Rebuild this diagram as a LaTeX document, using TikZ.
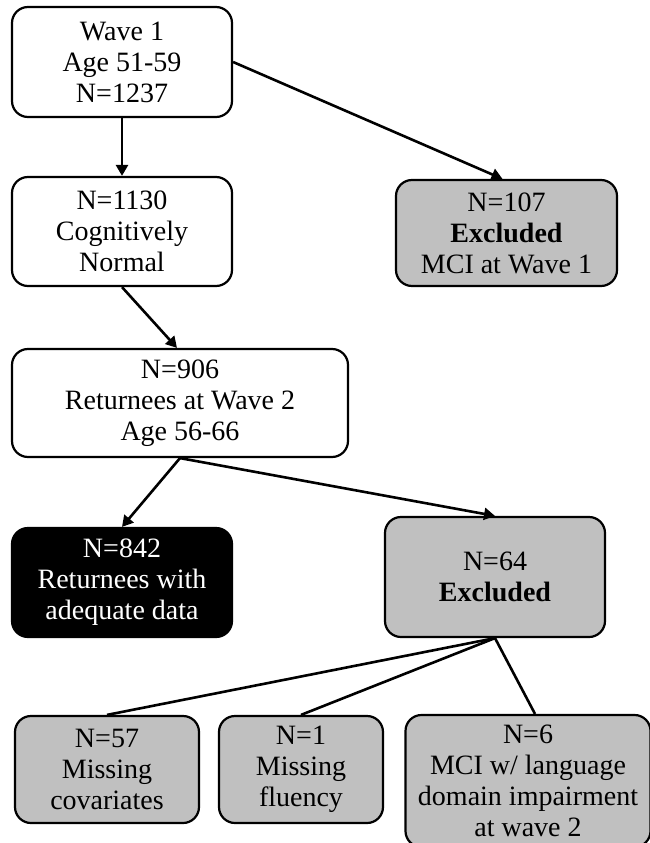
\documentclass[tikz,border=0pt]{standalone}
\usepackage{fontspec}
\setmainfont{Liberation Serif}
\usetikzlibrary{arrows.meta,positioning,calc}
\definecolor{exclgray}{RGB}{192,192,192}
\tikzset{
  box/.style={draw, line width=2.2pt, rounded corners=16pt, align=center,
    inner sep=2pt, font=\fontsize{28}{31}\selectfont},
  greybox/.style={box, fill=exclgray},
  darkbox/.style={box, fill=black, text=white},
  arr/.style={line width=2.6pt, -{Triangle[length=11pt,width=12pt]}},
  lnk/.style={line width=2.6pt}
}

\begin{document}
\begin{tikzpicture}[x=1pt,y=-1pt]
\useasboundingbox (0,0) rectangle (650,843);
\clip (0,0) rectangle (650,843);
\node[box, minimum width=220, minimum height=110] (wave1) at (122,62) {Wave 1\\Age 51-59\\N=1237};
\node[box, minimum width=220, minimum height=109] (normal) at (122,231.5) {N=1130\\Cognitively\\Normal};
\node[greybox, minimum width=221, minimum height=106] (excl1) at (506.5,233) {N=107\\\textbf{Excluded}\\MCI at Wave 1};
\node[box, minimum width=336, minimum height=108] (wave2) at (180,403) {N=906\\Returnees at Wave 2\\Age 56-66};
\node[darkbox, minimum width=220, minimum height=109] (final) at (122,582.5) {N=842\\Returnees with\\adequate data};
\node[greybox, minimum width=220, minimum height=120] (excl2) at (495,577) {N=64\\\textbf{Excluded}};
\node[greybox, minimum width=184, minimum height=107] (miscov) at (107,769.5) {N=57\\Missing\\covariates};
\node[greybox, minimum width=164, minimum height=107] (misflu) at (301,769.5) {N=1\\Missing\\fluency};
\node[greybox, minimum width=245, minimum height=132] (mcilang) at (528,781) {N=6\\MCI w/ language\\domain impairment\\at wave 2};
% arrows
\draw[arr] (wave1.east) -- ($(excl1.north)+(-4,0)$);
\draw[arr] (wave1.south) -- (normal.north);
\draw[arr] (normal.south) -- ($(wave2.north)+(-3,0)$);
\draw[arr] (wave2.south) -- (final.north);
\draw[arr] (wave2.south) -- (excl2.north);
% split of the excluded
\draw[lnk] (excl2.south) -- (miscov.north);
\draw[lnk] (excl2.south) -- (misflu.north);
\draw[lnk] (excl2.south) -- ($(mcilang.north)+(7,0)$);
\end{tikzpicture}
\end{document}
